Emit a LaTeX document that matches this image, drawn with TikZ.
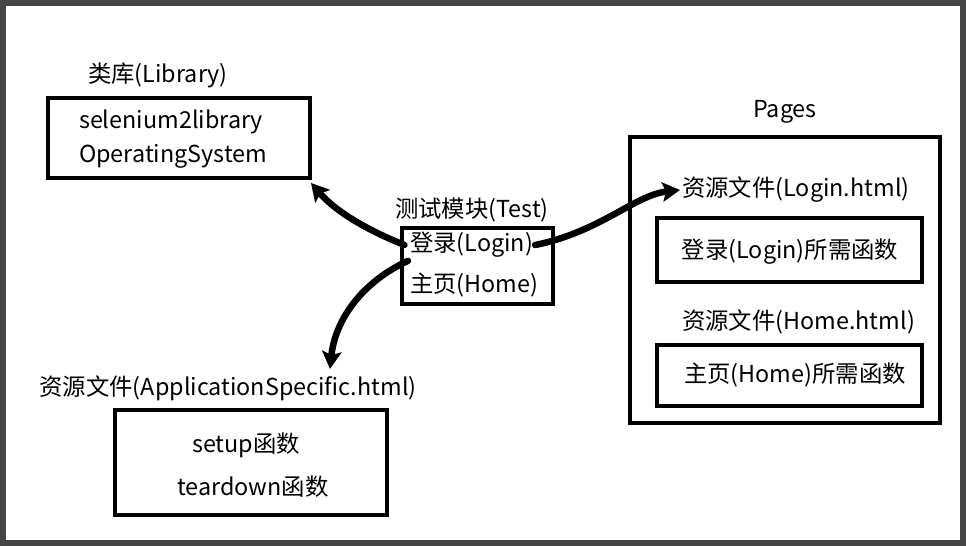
\documentclass[tikz,border=0pt]{standalone}
\usepackage{fontspec}
\setmainfont{Noto Sans CJK SC}
\usetikzlibrary{positioning,arrows.meta}

\tikzset{
  box/.style={draw, line width=2.3pt, inner sep=0pt},
  lbl/.style={inner sep=1pt, font=\fontsize{13.3pt}{16pt}\selectfont},
  arr/.style={line width=3.7pt, line cap=round, -{Stealth[length=10pt, width=11pt, inset=2pt]}}
}

\begin{document}
\begin{tikzpicture}[x=0.02cm, y=-0.02cm]
  \useasboundingbox (0,0) rectangle (966,546);
  \draw [line width=4.5pt, color=black!73] (2.2,2.5) rectangle (963.8,543.5);

  \node [lbl] (libtitle) at (158,75) {类库(Library)};
  \node [box, minimum width=5.24cm, minimum height=1.6cm] (lib) at (179,138) {};
  \node [lbl, align=left, anchor=west] (libtext) at (77,139.5) {selenium2library\\[0.12cm]OperatingSystem};

  \node [lbl] (testtitle) at (472,210) {测试模块(Test)};
  \node [box, minimum width=3.02cm, minimum height=1.52cm] (test) at (477.5,266) {};
  \node [lbl, anchor=west] (login) at (408,245) {登录(Login)};
  \node [lbl, anchor=west] (home) at (408,285) {主页(Home)};

  \node [lbl] (pagestitle) at (785,112) {Pages};
  \node [box, minimum width=6.2cm, minimum height=5.72cm] (pages) at (785,280) {};
  \node [lbl, anchor=west] (loginres) at (680,190) {资源文件(Login.html)};
  \node [box, minimum width=5.3cm, minimum height=1.28cm] (loginfn) at (789.5,250) {};
  \node [lbl] (loginfntext) at (790,252) {登录(Login)所需函数};
  \node [lbl, anchor=west] (homeres) at (680,322) {资源文件(Home.html)};
  \node [box, minimum width=5.3cm, minimum height=1.22cm] (homefn) at (789.5,375.5) {};
  \node [lbl] (homefntext) at (795,375) {主页(Home)所需函数};

  \node [lbl] (apptitle) at (228,388) {资源文件(ApplicationSpecific.html)};
  \node [box, minimum width=5.44cm, minimum height=2.1cm] (app) at (251,462.5) {};
  \node [lbl] (setup) at (246,445) {setup函数};
  \node [lbl] (teardown) at (253,487) {teardown函数};

  \coordinate (libin) at (311,183);
  \coordinate (appin) at (330,369);
  \draw [arr] ([xshift=-2pt]login.west) .. controls (372,232) and (338,214) .. (libin);
  \draw [arr] (login.east) .. controls (600,232) and (635,195) .. (loginres.west);
  \draw [arr] ([yshift=-9pt]login.west) .. controls (362,282) and (335,320) .. (appin);
\end{tikzpicture}
\end{document}
